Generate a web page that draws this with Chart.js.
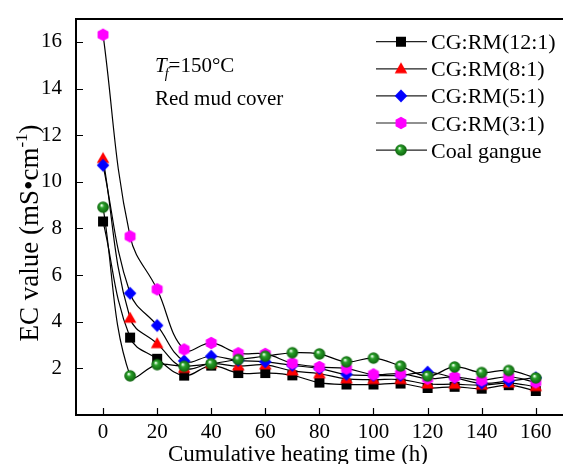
<!DOCTYPE html>
<html>
<head>
<meta charset="utf-8">
<script src="https://cdn.jsdelivr.net/npm/chart.js@4.4.0/dist/chart.umd.min.js"></script>
<style>
  html, body { margin: 0; padding: 0; background: #fff; overflow: hidden; }
  #wrap { position: relative; width: 570px; height: 464px; }
</style>
</head>
<body>
<div id="wrap"><canvas id="ecChart" width="570" height="464"></canvas></div>
<script>
// temps de chauffage cumulé (h)
const heatingTime = [0, 10, 20, 30, 40, 50, 60, 70, 80, 90, 100, 110, 120, 130, 140, 150, 160];
const seriesNames = ['CG:RM(12:1)', 'CG:RM(8:1)', 'CG:RM(5:1)', 'CG:RM(3:1)', 'Coal gangue'];
// valeurs EC (mS/cm)
const rm12 = [8.30, 3.32, 2.41, 1.69, 2.12, 1.80, 1.80, 1.70, 1.39, 1.31, 1.31, 1.35, 1.16, 1.21, 1.13, 1.28, 1.03];
const rm8 = [11.0, 4.15, 3.06, 2.00, 2.20, 2.10, 2.15, 1.89, 1.77, 1.55, 1.52, 1.52, 1.33, 1.32, 1.28, 1.37, 1.22];
const rm5 = [10.71, 5.22, 3.84, 2.32, 2.52, 2.34, 2.28, 2.13, 1.99, 1.74, 1.70, 1.70, 1.84, 1.60, 1.36, 1.46, 1.60];
const rm3 = [16.31, 7.66, 5.39, 2.81, 3.09, 2.65, 2.62, 2.22, 2.06, 1.99, 1.74, 1.77, 1.56, 1.63, 1.49, 1.64, 1.40];
const coalGangue = [8.91, 1.68, 2.16, 2.09, 2.20, 2.38, 2.52, 2.67, 2.62, 2.28, 2.44, 2.10, 1.67, 2.06, 1.82, 1.91, 1.59];
const xTicks = [0, 20, 40, 60, 80, 100, 120, 140, 160];
const yTicks = [2, 4, 6, 8, 10, 12, 14, 16];

const allSeries = [rm12, rm8, rm5, rm3, coalGangue];
const serif = '"Liberation Serif", "Times New Roman", serif';

// Marqueurs dessinés sur de petits canvas
const makeMarker = (kind) => {
    const c = document.createElement('canvas');
    c.width = c.height = 16;
    const g = c.getContext('2d');
    const m = 8;
    g.beginPath();
    if (kind === 'square') {
        g.fillStyle = '#000';
        g.rect(m - 5, m - 5, 10, 10);
        g.fill();
    } else if (kind === 'triangle') {
        g.fillStyle = '#ff0000';
        g.moveTo(m, m - 6.5);
        g.lineTo(m + 6.3, m + 4.5);
        g.lineTo(m - 6.3, m + 4.5);
        g.closePath();
        g.fill();
    } else if (kind === 'diamond') {
        g.fillStyle = '#0000ff';
        g.moveTo(m, m - 6.5);
        g.lineTo(m + 6.3, m);
        g.lineTo(m, m + 6.5);
        g.lineTo(m - 6.3, m);
        g.closePath();
        g.fill();
    } else if (kind === 'hexagon') {
        g.fillStyle = '#ff00ff';
        for (let k = 0; k < 6; k++) {
            const a = -Math.PI / 2 + k * Math.PI / 3;
            const px = m + 6.3 * Math.cos(a), py = m + 6.3 * Math.sin(a);
            if (k === 0) g.moveTo(px, py); else g.lineTo(px, py);
        }
        g.closePath();
        g.fill();
    } else {
        const grad = g.createRadialGradient(m - 1.5, m - 2, 0.5, m, m, 6);
        grad.addColorStop(0, '#e8ffe8');
        grad.addColorStop(0.3, '#2aa02a');
        grad.addColorStop(1, '#0b5e0b');
        g.fillStyle = grad;
        g.arc(m, m, 5.8, 0, Math.PI * 2);
        g.fill();
    }
    return c;
};
const markers = ['square', 'triangle', 'diamond', 'hexagon', 'sphere'].map(makeMarker);

// Cadre, graduations internes, titres, légende et annotation
const decorPlugin = {
    id: 'decor',
    afterDraw(chart) {
        const { ctx, chartArea: a, scales } = chart;
        ctx.save();
        const left = Math.round(a.left), top = Math.round(a.top), bottom = Math.round(a.bottom);
        ctx.fillStyle = '#000';
        ctx.fillRect(left - 1, top - 1, 570 - left, 2);      // haut
        ctx.fillRect(left - 1, top - 1, 2, bottom - top + 2); // gauche
        ctx.fillRect(left - 1, bottom - 1, 570 - left, 2);   // bas

        ctx.strokeStyle = '#000';
        ctx.beginPath();
        xTicks.forEach(v => {
            const px = Math.round(scales.x.getPixelForValue(v)) + 0.5;
            ctx.moveTo(px, bottom);
            ctx.lineTo(px, bottom - 7);
        });
        yTicks.forEach(v => {
            const py = Math.round(scales.y.getPixelForValue(v)) + 0.5;
            ctx.moveTo(left, py);
            ctx.lineTo(left + 7, py);
        });
        ctx.lineWidth = 1.2;
        ctx.stroke();

        // titre axe x
        ctx.font = '23px ' + serif;
        ctx.textAlign = 'center';
        ctx.textBaseline = 'alphabetic';
        ctx.fillText('Cumulative heating time (h)', 298, 461);

        // titre axe y avec exposant
        ctx.save();
        ctx.translate(38, 233);
        ctx.rotate(-Math.PI / 2);
        ctx.textAlign = 'left';
        const mainFont = '27px ' + serif, supFont = '17px ' + serif;
        ctx.font = mainFont;
        const w1 = ctx.measureText('EC value (mS\u2022cm').width;
        const w3 = ctx.measureText(')').width;
        ctx.font = supFont;
        const w2 = ctx.measureText('-1').width;
        let x0 = -(w1 + w2 + w3) / 2;
        ctx.font = mainFont;
        ctx.fillText('EC value (mS\u2022cm', x0, 0);
        ctx.font = supFont;
        ctx.fillText('-1', x0 + w1, -11);
        ctx.font = mainFont;
        ctx.fillText(')', x0 + w1 + w2, 0);
        ctx.restore();

        // annotation
        ctx.textAlign = 'left';
        ctx.font = 'italic 21px ' + serif;
        ctx.fillText('T', 155, 72);
        const tw = ctx.measureText('T').width;
        ctx.font = 'italic 14px ' + serif;
        ctx.fillText('f', 155 + tw - 2, 78);
        const fw = ctx.measureText('f').width;
        ctx.font = '21px ' + serif;
        ctx.fillText('=150\u00b0C', 155 + tw - 2 + fw, 72);
        ctx.fillText('Red mud cover', 155, 104.5);

        // légende
        ctx.font = '22px ' + serif;
        seriesNames.forEach((name, i) => {
            const cy = 41.7 + 27.1 * i;
            ctx.beginPath();
            ctx.moveTo(376, cy);
            ctx.lineTo(427, cy);
            ctx.lineWidth = 1.2;
            ctx.strokeStyle = '#222';
            ctx.stroke();
            ctx.drawImage(markers[i], 401 - 8, cy - 8);
            ctx.fillText(name, 431, cy + 7.5);
        });
        ctx.restore();
    }
};

const ctx = document.getElementById('ecChart').getContext('2d');
const ecChart = new Chart(ctx, {
    type: 'line',
    data: {
        datasets: seriesNames.map((name, i) => ({
            label: name,
            data: heatingTime.map((t, j) => ({ x: t, y: allSeries[i][j] })),
            borderColor: '#000',
            borderWidth: 1.2,
            tension: 0.4,
            fill: false,
            pointStyle: markers[i],
            pointRadius: 6,
            pointHoverRadius: 6,
            order: seriesNames.length - i
        }))
    },
    options: {
        responsive: false,
        animation: false,
        layout: { padding: { top: 16, right: 4, left: 0, bottom: 0 } },
        plugins: {
            legend: { display: false },
            tooltip: { enabled: false }
        },
        scales: {
            x: {
                type: 'linear',
                min: -10,
                max: 170,
                grid: { display: false },
                border: { display: false },
                afterBuildTicks: s => { s.ticks = xTicks.map(v => ({ value: v })); },
                afterFit: s => { s.height = 49; },
                ticks: {
                    color: '#000',
                    font: { family: serif, size: 21 },
                    padding: -3,
                    maxRotation: 0,
                    autoSkip: false
                }
            },
            y: {
                min: 0,
                max: 17,
                grid: { display: false },
                border: { display: false },
                afterBuildTicks: s => { s.ticks = yTicks.map(v => ({ value: v })); },
                afterFit: s => { s.width = 76; },
                ticks: {
                    color: '#000',
                    font: { family: serif, size: 21 },
                    padding: 6
                }
            }
        }
    },
    plugins: [decorPlugin]
});
</script>
</body>
</html>
